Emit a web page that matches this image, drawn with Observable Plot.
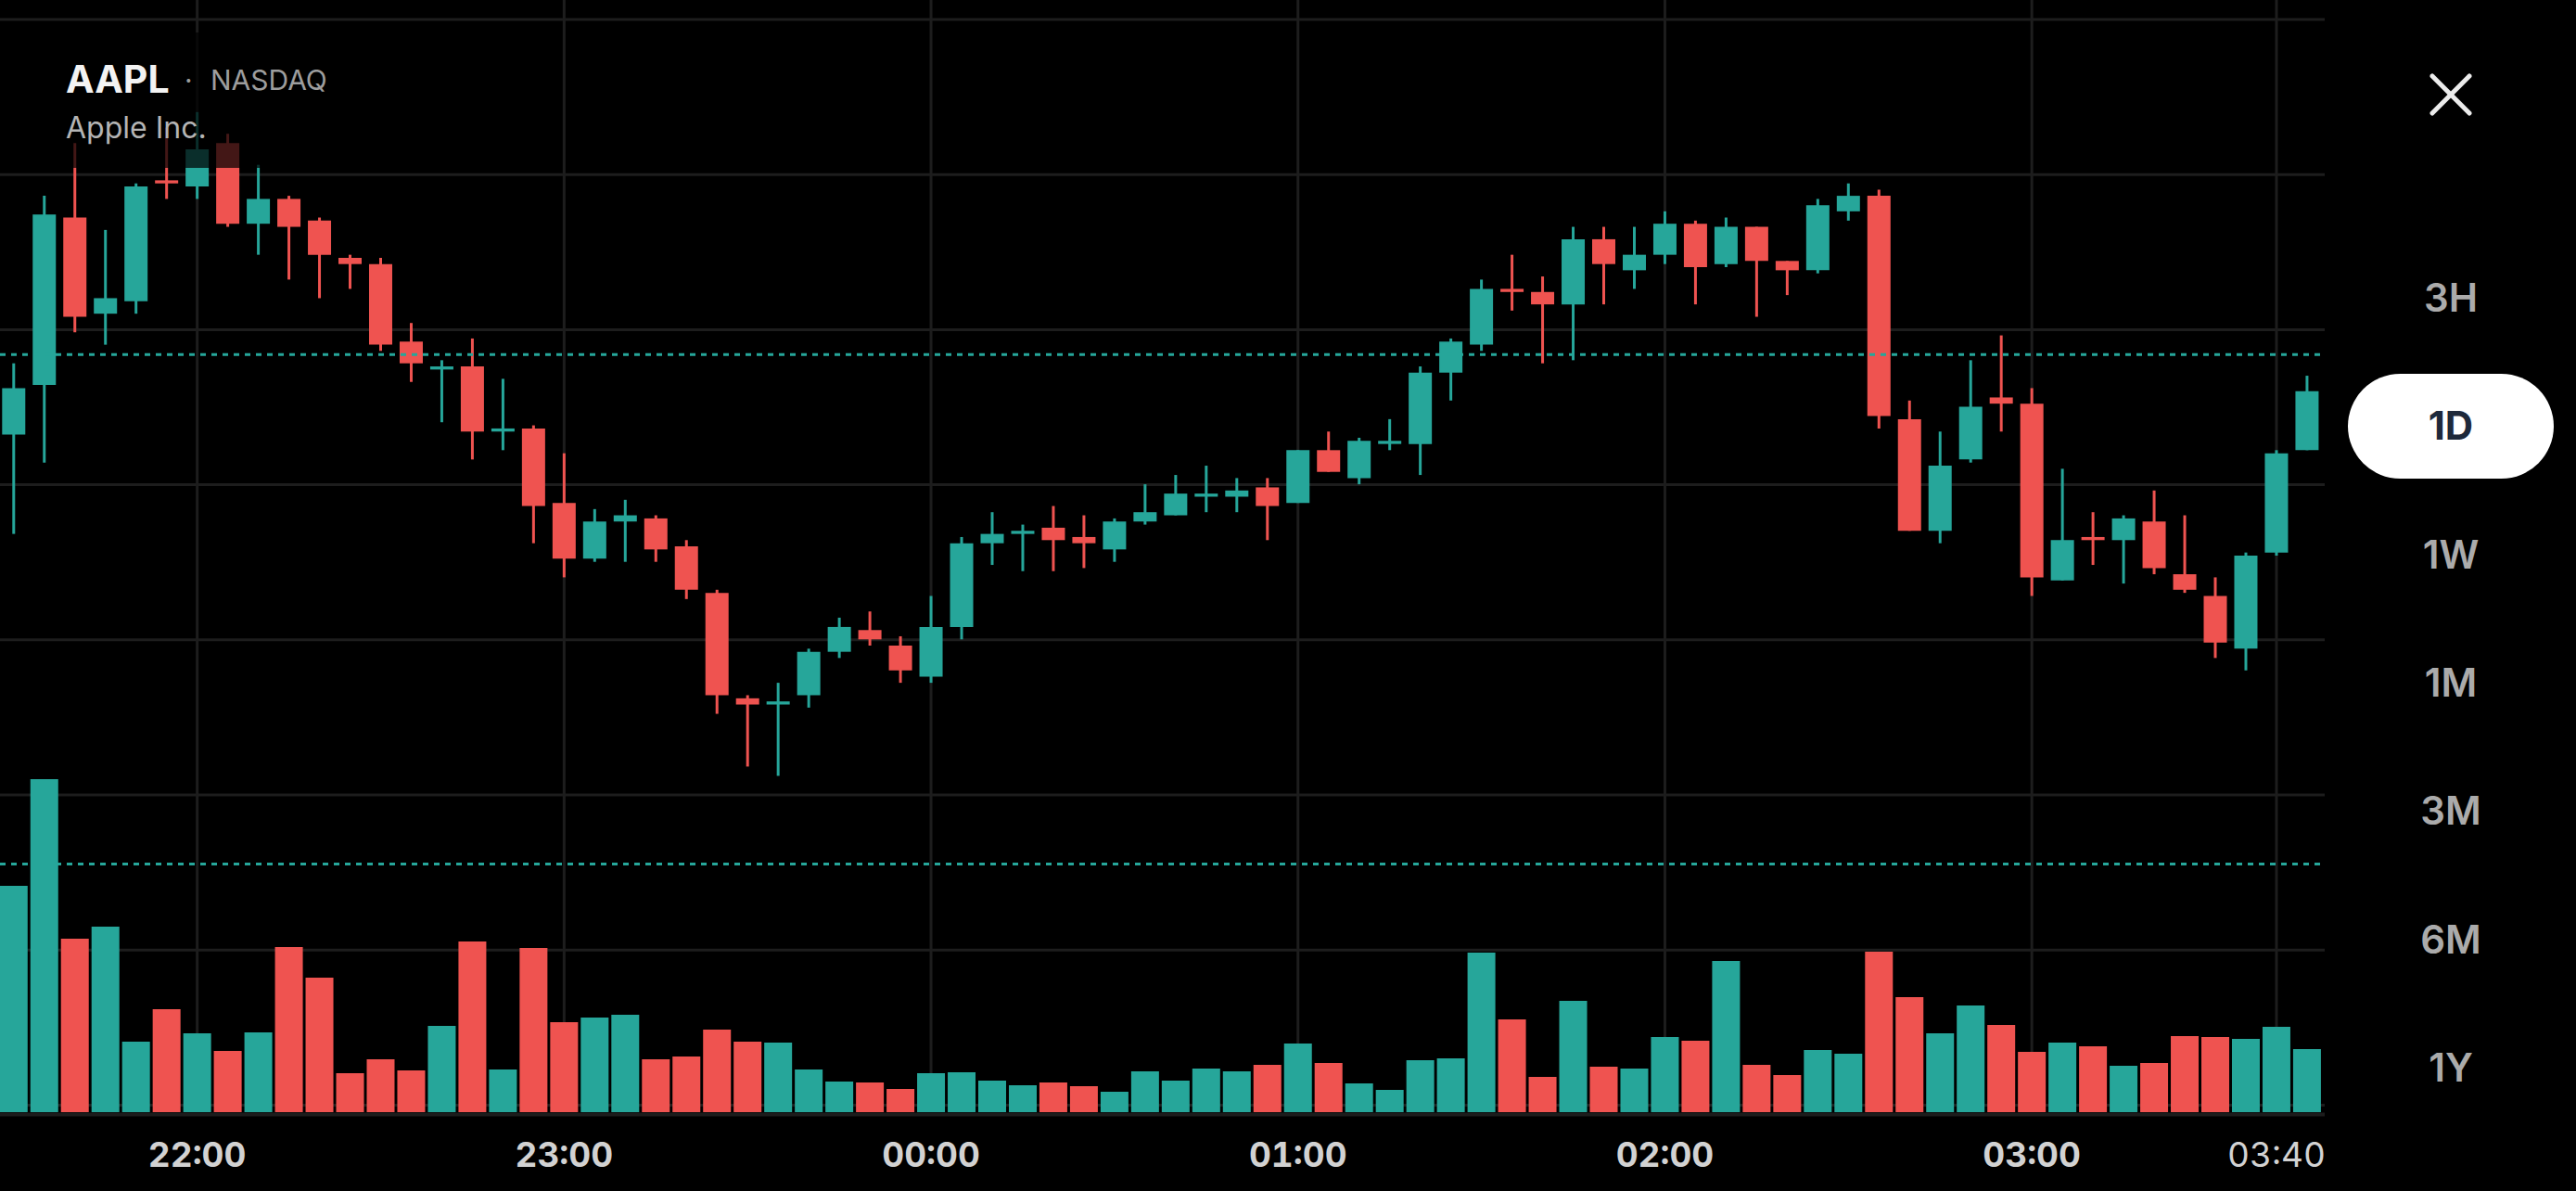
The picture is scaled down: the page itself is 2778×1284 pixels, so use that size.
<!DOCTYPE html>
<html>
<head>
<meta charset="utf-8">
<script src="https://cdn.jsdelivr.net/npm/d3@7"></script>
<script src="https://cdn.jsdelivr.net/npm/@observablehq/plot@0.6"></script>
<style>
  html, body { margin: 0; padding: 0; background: #000; }
  body { width: 2778px; height: 1284px; overflow: hidden; position: relative;
         font-family: Inter, "Noto Sans", sans-serif; }
  #chart { position: absolute; left: 0; top: 0; width: 2507px; height: 1284px; }
  #chart svg { position: absolute; left: 0; top: 0; }
  .shade { position: absolute; left: 0; top: 35px; width: 400px; height: 146px; background: rgba(0,0,0,0.72); }
  .txt { position: absolute; line-height: 1; white-space: nowrap; }
  .sym { left: 71px; top: 65px; font-size: 41px; font-weight: 700; color: #f3f3f3; }
  .dot { left: 199px; top: 71px; font-size: 30px; color: #9d9d9d; }
  .exch { left: 227px; top: 71px; font-size: 30px; font-weight: 400; color: #9d9d9d; }
  .name { left: 71px; top: 122px; font-size: 32px; font-weight: 400; color: #b4b4b4; }
  .close { position: absolute; left: 2620px; top: 79px; }
  .pill { position: absolute; left: 2532px; top: 403px; width: 222px; height: 113px;
          border-radius: 57px; background: #fff; }
  .range { position: absolute; left: 2532px; width: 222px; height: 42px; line-height: 42px;
           text-align: center; font-size: 42px; font-weight: 600; color: #ababab; }
  .range.on { color: #1e293b; font-weight: 700; }
</style>
</head>
<body>
<div id="chart"></div>
<div class="shade"></div>
<div class="txt sym">AAPL</div>
<div class="txt dot">·</div>
<div class="txt exch">NASDAQ</div>
<div class="txt name">Apple Inc.</div>
<svg class="close" width="46" height="46" viewBox="0 0 46 46">
  <line x1="3" y1="3" x2="43" y2="43" stroke="#ececec" stroke-width="5" stroke-linecap="round"/>
  <line x1="43" y1="3" x2="3" y2="43" stroke="#ececec" stroke-width="5" stroke-linecap="round"/>
</svg>
<div class="pill"></div>
<div id="ranges"></div>
<script>
// 5-minute AAPL candles, 21:30 → 03:45
const opens = [226.66,226.82,227.36,227.05,227.09,227.48,227.46,227.60,227.34,227.42,
  227.35,227.23,227.21,226.96,226.87,226.88,226.67,226.68,226.44,226.26,
  226.38,226.39,226.30,226.15,225.81,225.79,225.82,225.96,226.03,225.98,
  225.88,226.04,226.31,226.34,226.36,226.33,226.29,226.38,226.40,226.46,
  226.46,226.49,226.44,226.61,226.52,226.63,226.63,226.86,226.95,227.13,
  227.12,227.08,227.29,227.19,227.24,227.34,227.21,227.33,227.22,227.19,
  227.38,227.43,226.71,226.35,226.58,226.78,226.76,226.19,226.33,226.32,
  226.38,226.21,226.14,225.97,226.28,226.61];
const highs = [226.89,227.43,227.60,227.32,227.47,227.65,227.70,227.63,227.53,227.43,
  227.36,227.24,227.23,227.02,226.90,226.97,226.84,226.69,226.60,226.42,
  226.45,226.40,226.32,226.16,225.82,225.86,225.97,226.07,226.09,226.01,
  226.14,226.33,226.41,226.37,226.43,226.40,226.39,226.50,226.53,226.56,
  226.52,226.52,226.61,226.67,226.65,226.71,226.88,226.97,227.16,227.24,
  227.17,227.33,227.33,227.33,227.38,227.35,227.36,227.33,227.22,227.42,
  227.47,227.45,226.77,226.67,226.90,226.98,226.81,226.55,226.41,226.40,
  226.48,226.40,226.20,226.28,226.61,226.85];
const lows = [226.34,226.57,226.99,226.95,227.05,227.42,227.42,227.33,227.24,227.16,
  227.10,227.13,226.93,226.83,226.70,226.58,226.61,226.31,226.20,226.25,
  226.25,226.25,226.13,225.76,225.59,225.56,225.78,225.94,225.98,225.86,
  225.86,226.00,226.24,226.22,226.22,226.23,226.25,226.37,226.40,226.41,
  226.41,226.32,226.44,226.54,226.50,226.61,226.53,226.77,226.93,227.06,
  226.89,226.90,227.08,227.13,227.21,227.08,227.20,227.04,227.11,227.18,
  227.35,226.68,226.35,226.31,226.57,226.67,226.14,226.19,226.24,226.18,
  226.21,226.15,225.94,225.90,226.27,226.61];
const closes = [226.81,227.37,227.04,227.10,227.46,227.47,227.58,227.34,227.42,227.33,
  227.24,227.21,226.95,226.89,226.88,226.67,226.68,226.43,226.26,226.38,
  226.40,226.29,226.16,225.82,225.79,225.80,225.96,226.04,226.00,225.90,
  226.04,226.31,226.34,226.35,226.32,226.31,226.38,226.41,226.47,226.47,
  226.48,226.43,226.61,226.54,226.64,226.64,226.86,226.96,227.13,227.12,
  227.08,227.29,227.21,227.24,227.34,227.20,227.33,227.22,227.19,227.40,
  227.43,226.72,226.35,226.56,226.75,226.76,226.20,226.32,226.32,226.39,
  226.23,226.16,225.99,226.27,226.60,226.80];
// volume per candle, thousands of shares
const volumes = [244,359,187,200,76,111,85,66,86,178,
  145,42,57,45,93,184,46,177,97,102,
  105,57,60,89,76,75,46,33,32,25,
  42,43,34,29,32,28,22,44,34,47,
  44,51,74,53,31,24,56,58,172,100,
  38,120,49,47,81,77,163,51,40,67,
  63,173,124,85,115,94,65,75,71,50,
  53,82,81,79,92,68];

const prevClose = 226.92;      // dashed price reference
const avgVolume = 268;         // dashed volume reference
const priceGrid = [224.5, 225, 225.5, 226, 226.5, 227, 227.5, 228];
const hourTicks = ["22:00", "23:00", "00:00", "01:00", "02:00", "03:00"];
const lastTick = "03:40";
const ranges = ["3H", "1D", "1W", "1M", "3M", "6M", "1Y"];
const activeRange = "1D";

const teal = "#26a69a", red = "#ef5350", grid = "#1d1d1d";

// session clock: evening hours on day 2, early-morning hours on day 3
const clock = s => {
  const [h, m] = s.split(":").map(Number);
  return new Date(Date.UTC(2024, 0, h < 12 ? 3 : 2, h, m));
};
const first = clock("21:30");
const candles = opens.map((o, i) => ({
  time: new Date(+first + i * 5 * 60 * 1000),
  open: o, high: highs[i], low: lows[i], close: closes[i], volume: volumes[i]
}));
const tone = d => d.close >= d.open ? teal : red;

const xDomain = [new Date(Date.UTC(2024, 0, 2, 21, 27, 50)), new Date(Date.UTC(2024, 0, 3, 3, 47, 58))];
const hourDates = hourTicks.map(clock);
const lastDate = [clock(lastTick)];
const fmt = d3.utcFormat("%H:%M");
const W = 2507, H = 1284;

const pricePlot = Plot.plot({
  width: W, height: H, marginTop: 0, marginBottom: 85, marginLeft: 0, marginRight: 0,
  style: {background: "transparent", overflow: "visible"},
  x: {type: "utc", domain: xDomain, axis: null},
  y: {domain: [224.4758, 228.0613], axis: null},
  color: {type: "identity"},
  marks: [
    Plot.ruleY(priceGrid, {stroke: grid, strokeWidth: 3}),
    Plot.ruleX([...hourDates, ...lastDate], {stroke: grid, strokeWidth: 3}),
    Plot.ruleX(candles, {x: "time", y1: "low", y2: "high", stroke: tone, strokeWidth: 3}),
    Plot.ruleX(candles, {x: "time", y1: "open", y2: "close", stroke: tone, strokeWidth: 25}),
    Plot.ruleY([prevClose], {stroke: teal, strokeWidth: 3, strokeDasharray: "6,6"})
  ]
});

const axisStyle = {tickSize: 0, tickPadding: 32, fontSize: 37, fontFamily: "Inter",
  color: "#d2d2d2", tickFormat: fmt, label: null};

const volumePlot = Plot.plot({
  width: W, height: H, marginTop: 799, marginBottom: 85, marginLeft: 0, marginRight: 0,
  style: {background: "transparent", overflow: "visible"},
  x: {type: "utc", domain: xDomain, axis: null},
  y: {domain: [0, 400], axis: null},
  color: {type: "identity"},
  marks: [
    Plot.ruleY([0], {stroke: "#1c1c1c", strokeWidth: 4, dy: 2}),
    Plot.ruleX(candles, {x: "time", y1: 0, y2: "volume", stroke: tone, strokeWidth: 30}),
    Plot.ruleY([avgVolume], {stroke: teal, strokeWidth: 3, strokeDasharray: "6,6"}),
    Plot.axisX(hourDates, {...axisStyle, fontWeight: 700}),
    Plot.axisX(lastDate, {...axisStyle, fontWeight: 400})
  ]
});

const chart = document.getElementById("chart");
chart.append(pricePlot, volumePlot);

// time-range selector
const box = document.getElementById("ranges");
ranges.forEach((r, i) => {
  const el = document.createElement("div");
  el.className = "range" + (r === activeRange ? " on" : "");
  el.textContent = r;
  el.style.top = (300 + i * 138.3) + "px";
  box.append(el);
});
</script>
</body>
</html>
